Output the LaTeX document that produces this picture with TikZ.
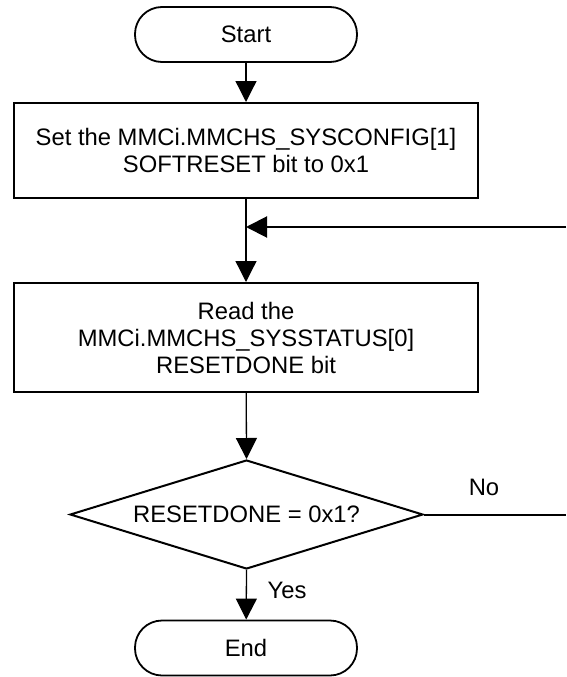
\documentclass[tikz,border=0pt]{standalone}
\usepackage{fontspec}
\setmainfont{Liberation Sans}
\usetikzlibrary{arrows.meta,shapes.geometric}
\tikzset{
  every node/.style={font=\fontsize{23.8}{27}\selectfont},
  term/.style={draw, line width=1.8pt, rectangle, rounded corners=27pt, minimum width=222pt, minimum height=55pt, inner sep=0pt},
  procbox/.style={draw, line width=2pt, rectangle, minimum width=464pt, align=center, inner sep=0pt},
  decision/.style={draw, line width=2pt, diamond, aspect=3.24, minimum width=353pt, minimum height=109pt, inner sep=0pt},
  conn/.style={line width=1.3pt, -{Triangle[length=21pt,width=21pt]}},
  loopline/.style={line width=2pt},
  lbl/.style={inner sep=0pt}
}
\begin{document}
\begin{tikzpicture}[x=1pt,y=-1pt]
\useasboundingbox (0,0) rectangle (566,677);
\node[term] (start) at (246,34.5) {Start};
\node[procbox, minimum height=95pt] (box1) at (246,150.5) {Set the MMCi.MMCHS\_SYSCONFIG[1]\\SOFTRESET bit to 0x1};
\node[procbox, minimum height=109pt] (box2) at (246,337.5) {Read the\\MMCi.MMCHS\_SYSSTATUS[0]\\RESETDONE bit};
\node[decision] (dec) at (246.5,514.5) {RESETDONE = 0x1?};
\node[term] (end) at (246,648) {End};
\coordinate (join) at (246,227);
\coordinate (loopin) at (566,227);
\coordinate (noout) at (566,514.5);
\draw[conn] (start) -- (box1);
\draw[conn] (box1) -- (box2);
\draw[conn] (box2) -- (dec.north);
\draw[conn] (dec.south) -- (end);
\draw[loopline] (dec.east) -- (noout);
\draw[loopline, -{Triangle[length=21pt,width=21pt]}] (loopin) -- (join);
\node[lbl] (no) at (484,487) {No};
\node[lbl] (yes) at (287,590) {Yes};
\end{tikzpicture}
\end{document}
